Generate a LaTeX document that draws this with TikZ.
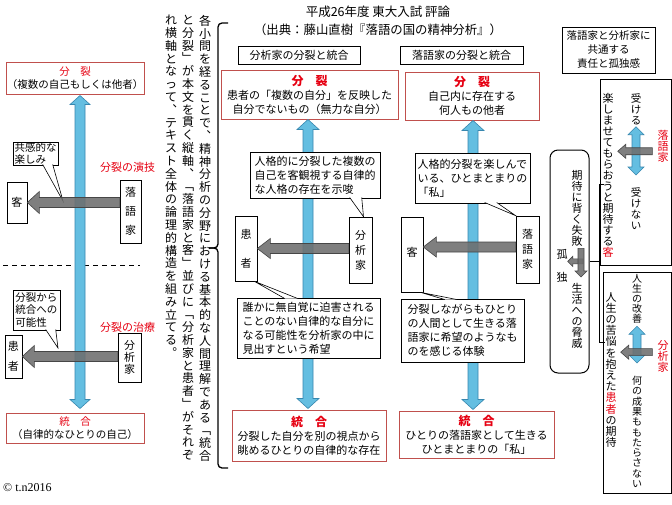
\documentclass[tikz,border=0pt]{standalone}
\usepackage{fontspec}
\setmainfont{Noto Sans CJK JP}
\newfontfamily\latinserif{Liberation Serif}
\usetikzlibrary{calc}

\definecolor{punainen}{RGB}{230,0,18}
\definecolor{punareuna}{RGB}{192,80,77}
\definecolor{sininen}{RGB}{100,190,225}
\definecolor{sinireuna}{RGB}{55,135,175}
\definecolor{harmaa}{RGB}{110,110,110}
\definecolor{harmaareuna}{RGB}{70,70,70}

% Pystyteksti: merkit allekkain
\def\pystyloppu{pystyloppu}
\newcommand\pysty[2][12pt]{\vbox{\baselineskip=#1\relax\lineskiplimit=-\maxdimen\lineskip=0pt\pystyaskel#2\pystyloppu}}
\def\pystyaskel#1{\ifx\pystyloppu#1\else\hbox to 1em{\hss#1\hss}\expandafter\pystyaskel\fi}
\newcommand\punaotsikko[1]{{\fontsize{12}{14}\selectfont\bfseries\color{punainen}#1}}

% Nuolet
\newcommand\kaksoisnuoli[5]{%
  \draw[sininuoli] let \p1=(#1), \p2=(#2) in
    (\x1,\y1) -- (\x1+#4,\y1-#5) -- (\x1+#3,\y1-#5) -- (\x1+#3,\y2+#5)
    -- (\x1+#4,\y2+#5) -- (\x1,\y2) -- (\x1-#4,\y2+#5) -- (\x1-#3,\y2+#5)
    -- (\x1-#3,\y1-#5) -- (\x1-#4,\y1-#5) -- cycle;}
\newcommand\vasennuoli[5]{%
  \draw[harmaanuoli] let \p1=(#1), \p2=(#2) in
    (\x2,\y1) -- (\x2+#5,\y1+#4) -- (\x2+#5,\y1+#3) -- (\x1,\y1+#3)
    -- (\x1,\y1-#3) -- (\x2+#5,\y1-#3) -- (\x2+#5,\y1-#4) -- cycle;}
\newcommand\alasnuoli[5]{%
  \draw[harmaanuoli] let \p1=(#1), \p2=(#2) in
    (\x1,\y2) -- (\x1+#4,\y2+#5) -- (\x1+#3,\y2+#5) -- (\x1+#3,\y1)
    -- (\x1-#3,\y1) -- (\x1-#3,\y2+#5) -- (\x1-#4,\y2+#5) -- cycle;}
% Puhekuplan kieleke
\newcommand\kielake[3]{%
  \fill[white] (#1) -- (#3) -- (#2) -- cycle;
  \draw[line width=0.6pt] (#1) -- (#3) -- (#2);}

\begin{document}
\begin{tikzpicture}[x=1pt, y=-1pt,
      laatikko/.style={draw=black, line width=0.6pt, fill=white, inner sep=0pt,
        align=center, font=\fontsize{11}{14}\selectfont},
      punalaatikko/.style={laatikko, draw=punareuna, line width=1pt},
      kupla/.style={laatikko, align=left},
      teksti/.style={inner sep=0pt, font=\fontsize{11}{14}\selectfont},
      punateksti/.style={teksti, text=punainen},
      sininuoli/.style={fill=sininen, draw=sinireuna, line width=0.6pt},
      harmaanuoli/.style={fill=harmaa, draw=harmaareuna, line width=0.6pt, fill opacity=0.88},
      kaari/.style={line width=1.3pt, draw=black}]

      \useasboundingbox (0,0) rectangle (672,504);
      \fill[white] (0,0) rectangle (672,504);

      % Vasen paneeli
      \node[punalaatikko, minimum width=138pt, minimum height=32pt,
        font=\fontsize{10.5}{13}\selectfont] (bunretsuL) at (75,78)
        {{\color{punainen}分　裂}\\（複数の自己もしくは他者）};
      \node[punalaatikko, minimum width=138pt, minimum height=30pt,
        font=\fontsize{10.5}{13}\selectfont] (tougouL) at (75,428)
        {{\color{punainen}統　合}\\（自律的なひとりの自己）};
      \draw[dash pattern=on 5pt off 4pt, line width=0.8pt] (3,265) -- (140,265);
      \kaksoisnuoli{[xshift=5pt,yshift=-1pt]bunretsuL.south}{[xshift=5pt,yshift=4pt]tougouL.north}{5pt}{10pt}{9pt}

      \node[kupla, minimum width=45pt, minimum height=23pt,
        font=\fontsize{10.5}{12}\selectfont] (kyokan) at (35.5,153.5) {共感的な\\楽しみ};
      \coordinate (kyokanKarki) at (63,201);
      \kielake{$(kyokan.south west)+(30,-0.8)$}{$(kyokan.south west)+(40,-0.8)$}{kyokanKarki}
      \node[laatikko, minimum width=20pt, minimum height=41pt] (kyakuL) at (17,202.5) {客};
      \node[laatikko, minimum width=21pt, minimum height=63pt] (rakugokaL) at (130.5,211.5) {\pysty[19pt]{落語家}};
      \vasennuoli{rakugokaL.west |- kyakuL.east}{kyakuL.east}{5pt}{11pt}{12pt}
      \node[punateksti, anchor=west] (engi) at (100,167) {分裂の演技};

      \node[kupla, minimum width=47pt, minimum height=40pt,
        font=\fontsize{10.5}{12.5}\selectfont] (kanousei) at (36.5,310) {分裂から\\統合への\\可能性};
      \coordinate (kanouseiKarki) at (58,348);
      \kielake{$(kanousei.south west)+(33,-0.8)$}{$(kanousei.south west)+(43,-0.8)$}{kanouseiKarki}
      \node[laatikko, minimum width=17pt, minimum height=43pt] (kanjaL) at (13.5,356.5) {\pysty[20pt]{患者}};
      \node[laatikko, minimum width=23pt, minimum height=49pt] (bunsekikaL) at (129.5,357.5) {\pysty[12pt]{分析家}};
      \vasennuoli{bunsekikaL.west |- kanjaL.east}{kanjaL.east}{5pt}{11pt}{12pt}
      \node[punateksti, anchor=west] (chiryou) at (100,327) {分裂の治療};

      \node[anchor=west, inner sep=0pt, font=\latinserif\fontsize{12}{14}\selectfont] (tekija) at (3,488) {© t.n2016};

      % Pystysarakkeet ja aaltosulje
      \node[teksti, anchor=north, font=\fontsize{12}{13}\selectfont] (sarake1) at (205,15)
        {\pysty[12.8pt]{各小問を経ることで︑精神分析の分野における基本的な人間理解である﹁統合}};
      \node[teksti, anchor=north, font=\fontsize{12}{13}\selectfont] (sarake2) at (188,15)
        {\pysty[12.8pt]{と分裂﹂が本文を貫く縦軸︑﹁落語家と客﹂並びに﹁分析家と患者﹂がそれぞ}};
      \node[teksti, anchor=north, font=\fontsize{12}{13}\selectfont] (sarake3) at (171,15)
        {\pysty[12.8pt]{れ横軸となって︑テキスト全体の論理的構造を組み立てる︒}};
      \draw[kaari, rounded corners=4pt] (228,23) -- (218,23) -- (218,248) -- (209,248);
      \draw[kaari, rounded corners=4pt] (209,248) -- (218,248) -- (218,468) -- (228,468);

      % Otsikko
      \node[teksti, font=\fontsize{12.5}{15}\selectfont] (otsikko) at (378,12) {平成26年度 東大入試 評論};
      \node[teksti, font=\fontsize{12.4}{15}\selectfont] (lahde) at (378,30) {（出典：藤山直樹『落語の国の精神分析』）};

      % Analyytikko
      \node[laatikko, minimum width=122pt, minimum height=18pt] (otsA) at (299,55) {分析家の分裂と統合};
      \node[punalaatikko, minimum width=177pt, minimum height=49pt] (bunretsuA) at (309.5,94.5)
        {\punaotsikko{分　裂}\\患者の「複数の自分」を反映した\\自分でないもの（無力な自分）};
      \node[punalaatikko, minimum width=154pt, minimum height=51pt] (tougouA) at (309,435.5)
        {\punaotsikko{統　合}\\分裂した自分を別の視点から\\眺めるひとりの自律的な存在};
      \kaksoisnuoli{[xshift=-1.5pt]bunretsuA.south}{[yshift=1pt]tougouA.north}{5pt}{11pt}{10pt}
      \node[kupla, minimum width=130pt, minimum height=46pt] (kuplaA1) at (315,175)
        {人格的に分裂した複数の\\自己を客観視する自律的\\な人格の存在を示唆};
      \node[laatikko, minimum width=22pt, minimum height=65pt] (kanjaA) at (246,248.5) {\pysty[29pt]{患者}};
      \node[laatikko, minimum width=23pt, minimum height=66pt] (bunsekikaA) at (360.5,250) {\pysty[15pt]{分析家}};
      \kielake{$(kuplaA1.south west)+(100,-0.8)$}{$(kuplaA1.south west)+(112,-0.8)$}{$(bunsekikaA.north)+(3,0)$}
      \node[kupla, minimum width=143pt, minimum height=60pt] (kuplaA2) at (308.5,328)
        {誰かに無自覚に迫害される\\ことのない自律的な自分に\\なる可能性を分析家の中に\\見出すという希望};
      \kielake{$(kuplaA2.north west)+(48,0.8)$}{$(kuplaA2.north west)+(61,0.8)$}{$(kanjaA.south east)+(-3,0)$}
      \vasennuoli{bunsekikaA.west |- kanjaA.east}{kanjaA.east}{5pt}{10pt}{13pt}

      % Rakugo
      \node[laatikko, minimum width=123pt, minimum height=18pt] (otsR) at (461.5,55) {落語家の分裂と統合};
      \node[punalaatikko, minimum width=134pt, minimum height=48pt] (bunretsuR) at (472,96)
        {\punaotsikko{分　裂}\\自己内に存在する\\何人もの他者};
      \node[punalaatikko, minimum width=155pt, minimum height=47pt] (tougouR) at (476.5,434.5)
        {\punaotsikko{統　合}\\ひとりの落語家として生きる\\ひとまとまりの「私」};
      \kaksoisnuoli{[xshift=1pt]bunretsuR.south}{[yshift=1pt]tougouR.north}{5pt}{11pt}{10pt}
      \node[kupla, minimum width=115pt, minimum height=50pt] (kuplaR1) at (472.5,178)
        {人格的分裂を楽しんで\\いる、ひとまとまりの\\「私」};
      \node[laatikko, minimum width=22pt, minimum height=75pt] (kyakuR) at (412,254.5) {\raisebox{6pt}{客}};
      \node[laatikko, minimum width=23pt, minimum height=67pt] (rakugokaR) at (527.5,249.5) {\pysty[15pt]{落語家}};
      \kielake{$(kuplaR1.south west)+(70,-0.8)$}{$(kuplaR1.south west)+(82,-0.8)$}{rakugokaR.north west}
      \node[kupla, minimum width=123pt, minimum height=63pt] (kuplaR2) at (462.5,330.5)
        {分裂しながらもひとり\\の人間として生きる落\\語家に希望のようなも\\のを感じる体験};
      \kielake{$(kuplaR2.north west)+(44,0.8)$}{$(kuplaR2.north west)+(56,0.8)$}{$(kyakuR.south east)+(-3,0)$}
      \vasennuoli{[yshift=2.5pt]rakugokaR.west}{kyakuR.east}{5pt}{10pt}{13pt}

      % Oikea paneeli
      \node[laatikko, minimum width=93pt, minimum height=46pt,
        font=\fontsize{10.5}{14}\selectfont] (yhteinen) at (608.5,50)
        {落語家と分析家に\\共通する\\責任と孤独感};
      \node[laatikko, minimum width=71pt, minimum height=186pt] (laatikkoB1) at (635.5,172) {};
      \node[laatikko, minimum width=68pt, minimum height=221pt] (laatikkoB2) at (637,382.5) {};
      \node[laatikko, minimum width=39pt, minimum height=223pt, rounded corners=8pt,
        line width=1pt] (kitaibox) at (569.5,261.5) {};

      \node[teksti, anchor=north] (tanoshimase) at (608,93)
        {\pysty[11pt]{楽しませてもらおうと期待する{\color{punainen}客}}};
      \node[teksti, anchor=north, font=\fontsize{10.5}{12}\selectfont] (ukeru) at (636,93) {\pysty[11pt]{受ける}};
      \node[teksti, anchor=north, font=\fontsize{10.5}{12}\selectfont] (ukenai) at (636,187) {\pysty[11pt]{受けない}};
      \node[punateksti, anchor=north] (rakugokaB) at (663,130) {\pysty[11pt]{落語家}};
      \kaksoisnuoli{[yshift=-2pt]ukeru.south}{[yshift=12pt]ukenai.north}{4pt}{8pt}{8pt}
      \vasennuoli{[xshift=-5pt,yshift=-5pt]rakugokaB.west}{[xshift=4pt]tanoshimase.east}{3.5pt}{7pt}{8pt}

      \node[teksti, anchor=north, font=\fontsize{10}{12}\selectfont] (kaizen) at (637,274) {\pysty[10pt]{人生の改善}};
      \node[teksti, anchor=north, font=\fontsize{10}{12}\selectfont] (nani) at (637,376) {\pysty[10.3pt]{何の成果ももたらさない}};
      \node[teksti, anchor=north] (kitai) at (611,292)
        {\pysty[11.2pt]{人生の苦悩を抱えた{\color{punainen}患}{\color{punainen}者}の期待}};
      \node[punateksti, anchor=north] (bunsekikaB) at (663,340) {\pysty[11pt]{分析家}};
      \kaksoisnuoli{[yshift=-3pt]kaizen.south}{[yshift=13pt]nani.north}{4pt}{8pt}{8pt}
      \vasennuoli{[xshift=-5pt,yshift=4pt]bunsekikaB.west}{[xshift=4pt]kitai.east}{3.5pt}{7pt}{8pt}

      \node[teksti, anchor=north] (shippai) at (577,170) {\pysty[11pt]{期待に背く失敗}};
      \node[teksti, anchor=north] (kodoku) at (562,249) {\pysty[23pt]{孤独}};
      \node[teksti, anchor=north] (seikatsu) at (577,283) {\pysty[11pt]{生活への脅威}};
      \vasennuoli{$(shippai.south)+(6,15)$}{kodoku.east}{2.5pt}{5pt}{5pt}
      \alasnuoli{[xshift=4pt,yshift=-2pt]shippai.south}{[xshift=4pt,yshift=6pt]seikatsu.north}{3pt}{6pt}{6pt}

      % Hakasulje
      \draw[kaari, line width=1pt] (kitaibox.east) -- ++(10,0);
      \draw[kaari, line width=1pt] ($(kitaibox.east)+(14,-77)$) -- ++(-4,0) -- ++(0,158) -- ++(5,0);
    \end{tikzpicture}
\end{document}
